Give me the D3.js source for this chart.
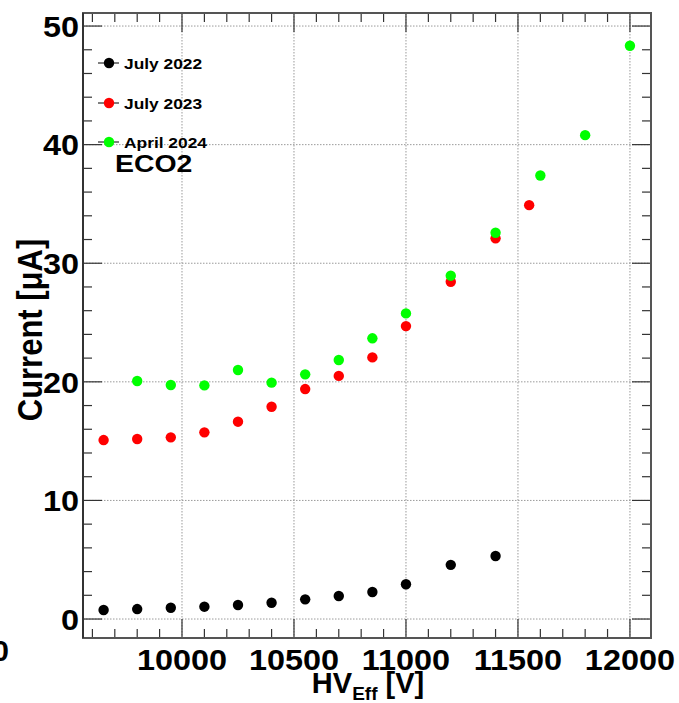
<!DOCTYPE html>
<html>
<head>
<meta charset="utf-8">
<script src="https://cdn.jsdelivr.net/npm/d3@7"></script>
<style>
  body { margin: 0; background: #fff; }
  svg { display: block; }
  text { font-family: "Liberation Sans", Arial, sans-serif; font-weight: bold; fill: #000; }
</style>
</head>
<body>
<svg width="679" height="703"></svg>
<script>
// HV scan, ECO2 chamber
var hv2022 = [9650, 9800, 9950, 10100, 10250, 10400, 10550, 10700, 10850, 11000, 11200, 11400];
var cur2022 = [0.76, 0.84, 0.95, 1.04, 1.18, 1.37, 1.66, 1.94, 2.28, 2.93, 4.57, 5.31];

var hv2023 = [9650, 9800, 9950, 10100, 10250, 10400, 10550, 10700, 10850, 11000, 11200, 11400, 11550];
var cur2023 = [15.09, 15.18, 15.32, 15.74, 16.64, 17.9, 19.39, 20.5, 22.06, 24.7, 28.44, 32.1, 34.9];

var hv2024 = [9800, 9950, 10100, 10250, 10400, 10550, 10700, 10850, 11000, 11200, 11400, 11600, 11800, 12000];
var cur2024 = [20.07, 19.73, 19.7, 21.0, 19.93, 20.63, 21.84, 23.67, 25.77, 28.95, 32.57, 37.4, 40.8, 48.34];

var seriesNames = ["July 2022", "July 2023", "April 2024"];
var seriesColors = ["#000000", "#ff0000", "#00ff00"];

var xMajor = [10000, 10500, 11000, 11500, 12000];
var yMajor = [0, 10, 20, 30, 40, 50];

var series = [
  hv2022.map((v, i) => ({x: v, y: cur2022[i]})),
  hv2023.map((v, i) => ({x: v, y: cur2023[i]})),
  hv2024.map((v, i) => ({x: v, y: cur2024[i]}))
];

var L = 83, R = 651, T = 13, B = 638;
var x = d3.scaleLinear().domain([9558, 12094]).range([L, R]);
var y = d3.scaleLinear().domain([-1.6, 51.1]).range([B, T]);

var xMinor = d3.range(9600, 12001, 100).filter(v => xMajor.indexOf(v) < 0);
var yMinor = d3.range(2, 50, 2).filter(v => v % 10 != 0);

var svg = d3.select("svg");
svg.append("rect").attr("width", 679).attr("height", 703).attr("fill", "#fff");

// stretch glyphs a bit wider, like the original rendering
function widen(sel, k) {
  sel.each(function() {
    var w = this.getComputedTextLength();
    d3.select(this).attr("textLength", w * k).attr("lengthAdjust", "spacingAndGlyphs");
  });
}

// grid
var grid = svg.append("g").attr("stroke", "#9a9a9a").attr("stroke-width", 1).attr("stroke-dasharray", "1.5,1.5");
grid.selectAll(".gx").data(xMajor).enter().append("line")
  .attr("x1", d => x(d)).attr("x2", d => x(d)).attr("y1", T).attr("y2", B);
grid.selectAll(".gy").data(yMajor).enter().append("line")
  .attr("x1", L).attr("x2", R).attr("y1", d => y(d)).attr("y2", d => y(d));

// ticks, inward on all four sides
var tk = svg.append("g").attr("stroke", "#333").attr("stroke-width", 1.2);
function ticksX(vals, len) {
  tk.selectAll(null).data(vals).enter().append("line")
    .attr("x1", d => x(d)).attr("x2", d => x(d)).attr("y1", B).attr("y2", B - len);
  tk.selectAll(null).data(vals).enter().append("line")
    .attr("x1", d => x(d)).attr("x2", d => x(d)).attr("y1", T).attr("y2", T + len);
}
function ticksY(vals, len) {
  tk.selectAll(null).data(vals).enter().append("line")
    .attr("y1", d => y(d)).attr("y2", d => y(d)).attr("x1", L).attr("x2", L + len);
  tk.selectAll(null).data(vals).enter().append("line")
    .attr("y1", d => y(d)).attr("y2", d => y(d)).attr("x1", R).attr("x2", R - len);
}
ticksX(xMajor, 19); ticksX(xMinor, 9);
ticksY(yMajor, 19); ticksY(yMinor, 9);

// frame
svg.append("rect").attr("x", L).attr("y", T).attr("width", R - L).attr("height", B - T)
  .attr("fill", "none").attr("stroke", "#555").attr("stroke-width", 2);
svg.append("line").attr("x1", L).attr("x2", L).attr("y1", T).attr("y2", B)
  .attr("stroke", "#333").attr("stroke-width", 2);

// tick labels
svg.append("g").selectAll("text").data(xMajor).enter().append("text")
  .attr("x", d => x(d)).attr("y", 670).attr("text-anchor", "middle")
  .attr("font-size", 30).text(d => d)
  .call(widen, 1.08);
svg.append("g").selectAll("text").data(yMajor).enter().append("text")
  .attr("x", 79).attr("y", d => y(d)).attr("dy", "0.36em").attr("text-anchor", "end")
  .attr("font-size", 30).text(d => d)
  .call(widen, 1.08);

// stray clipped label at the left edge
svg.append("text").attr("x", 9).attr("y", 661).attr("text-anchor", "end")
  .attr("font-size", 30).text("0");

// axis titles
var xt = svg.append("text").attr("x", 368).attr("y", 693).attr("text-anchor", "middle").attr("font-size", 29);
xt.append("tspan").text("HV");
xt.append("tspan").attr("font-size", 19).attr("dy", 7).text("Eff");
xt.append("tspan").attr("dy", -7).text(" [V]");

svg.append("text")
  .attr("transform", "translate(42,330) scale(1.15,1) rotate(-90)")
  .attr("text-anchor", "middle").attr("font-size", 31)
  .text("Current [\u03bcA]");

// points
var pts = svg.append("g");
series.forEach(function(s, i) {
  pts.append("g").attr("fill", seriesColors[i])
    .selectAll("circle").data(s).enter().append("circle")
    .attr("cx", d => x(d.x)).attr("cy", d => y(d.y)).attr("r", 5.2);
});

// legend
var legY = [63, 103, 142];
var leg = svg.append("g");
seriesNames.forEach(function(n, i) {
  leg.append("line").attr("x1", 98).attr("x2", 119).attr("y1", legY[i]).attr("y2", legY[i])
    .attr("stroke", "#000").attr("stroke-width", 1);
  leg.append("circle").attr("cx", 109).attr("cy", legY[i]).attr("r", 5.2).attr("fill", seriesColors[i]);
  leg.append("text").attr("x", 124).attr("y", legY[i] + 5.5).attr("font-size", 15.5).text(n)
    .call(widen, 1.12);
});
svg.append("text").attr("x", 115).attr("y", 172).attr("font-size", 24.5).text("ECO2")
  .call(widen, 1.16);
</script>
</body>
</html>
